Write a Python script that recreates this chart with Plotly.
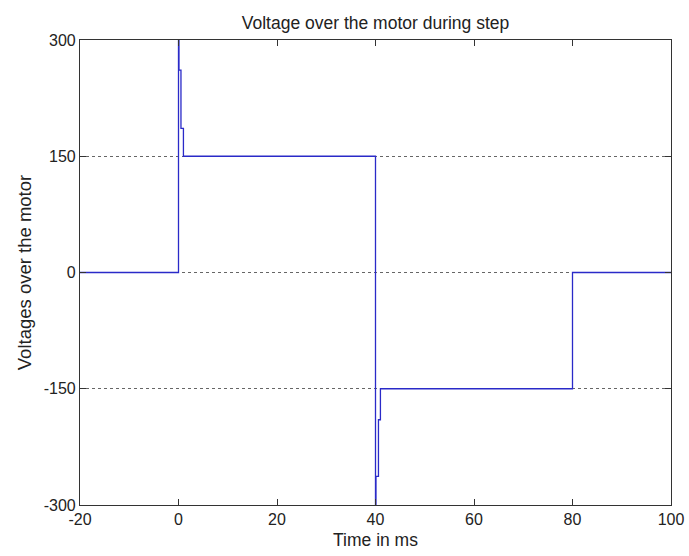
import plotly.graph_objects as go

# Step response: motor voltage (V) against time (ms), sampled at the switching instants
time_ms = [-20, 0, 0.1, 0.5, 1.0, 40, 40.1, 40.6, 41.0, 80, 100]
voltage = [0, 300, 261, 186, 150, -300, -263, -190, -150, 0, 0]

x_ticks = [-20, 0, 20, 40, 60, 80, 100]
x_tick_labels = ["-20", "0", "20", "40", "60", "80", "100"]
y_ticks = [-300, -150, 0, 150, 300]
y_tick_labels = ["-300", "-150", "0", "150", "300"]

font_family = "Liberation Sans, Arial, sans-serif"
text_color = "#222222"

fig = go.Figure()
fig.add_trace(go.Scatter(
    x=time_ms, y=voltage, mode="lines",
    line=dict(color="#2a2ac8", width=1.3, shape="hv"),
    showlegend=False,
))

axis_common = dict(
    showline=True, linecolor="#333333", linewidth=1.2,
    mirror="allticks", ticks="inside", ticklen=6, tickcolor="#333333",
    zeroline=False, automargin=False,
    tickfont=dict(family=font_family, size=16, color=text_color),
)

fig.update_xaxes(
    range=[-20, 100], tickvals=x_ticks, ticktext=x_tick_labels, showgrid=False,
    title=dict(text="Time in ms", standoff=6,
               font=dict(family=font_family, size=17.5, color=text_color)),
    **axis_common,
)
fig.update_yaxes(
    range=[-300, 300], tickvals=y_ticks, ticktext=y_tick_labels,
    showgrid=True, gridcolor="#666666", griddash="dot", gridwidth=1,
    title=dict(text="Voltages over the motor", standoff=7,
               font=dict(family=font_family, size=18.5, color=text_color)),
    **axis_common,
)

fig.update_layout(
    width=689, height=556,
    margin=dict(l=80, r=18, t=40, b=51),
    paper_bgcolor="white", plot_bgcolor="white",
    title=dict(text="Voltage over the motor during step", x=0.545, xanchor="center",
               y=0.958, yanchor="middle",
               font=dict(family=font_family, size=17.5, color=text_color)),
)

fig.write_html("out.html")
